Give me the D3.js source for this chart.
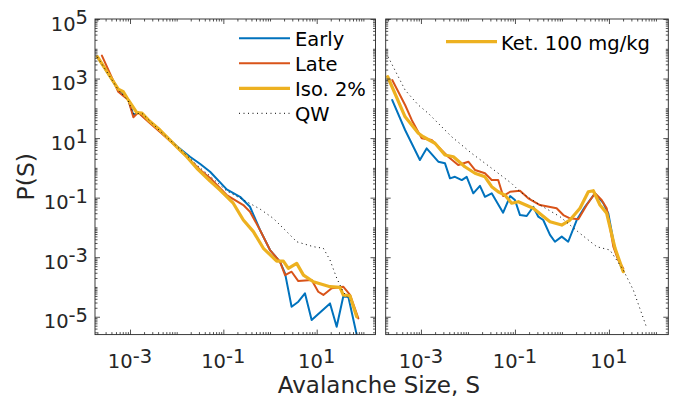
<!DOCTYPE html>
<html><head><meta charset="utf-8">
<script src="https://cdn.jsdelivr.net/npm/d3@7"></script>
<style>body{margin:0;background:#fff} svg{display:block;font-family:"DejaVu Sans",sans-serif}</style>
</head><body><svg id="c" width="680" height="398"></svg>
<script>
// ---------- data (left panel) ----------
const earlyS_L = [2.0e-4,5.6e-4,9.2e-4,1.18e-3,1.5e-3,2.5e-3,4.4e-3,1.0e-2,1.93e-2,3.2e-2,5.2e-2,0.118,0.228,0.372,0.61,1.0,1.64,2.1,2.9,4.04,5.6,7.8,19.3,26.8,37,47.6,72];
const earlyP_L = [5.3e3,4.2e2,1.9e2,60,72,37.5,17.3,5.4,2.37,1.35,0.74,0.19,0.107,0.0495,8.2e-3,1.74e-3,7.0e-4,2.87e-4,2.17e-5,3.2e-5,6.1e-5,7.8e-6,2.8e-5,4.6e-6,4.7e-5,4.7e-5,2.5e-6];
const lateS_L = [2.5e-4,5.6e-4,9.2e-4,1.18e-3,1.5e-3,2.5e-3,4.4e-3,1.0e-2,1.93e-2,3.2e-2,5.2e-2,0.118,0.268,0.372,0.61,1.0,1.64,2.1,2.9,4.04,7.8,10.8,13.9,21,37,51.8,78];
const lateP_L = [5.9e3,3.6e2,1.9e2,50,72,35,16,5.0,1.84,0.85,0.46,0.122,0.0565,0.0337,8.2e-3,1.74e-3,7.0e-4,2.5e-4,3.25e-4,1.58e-4,1.71e-4,6.9e-5,5.4e-5,9.0e-5,1.02e-4,5.4e-5,8.8e-6];
const isoS_L = [2.0e-4,5.6e-4,7.2e-4,9.2e-4,1.4e-3,1.8e-3,2.5e-3,4.4e-3,1.0e-2,1.64e-2,2.7e-2,5.2e-2,8.5e-2,0.163,0.268,0.44,0.72,1.39,1.93,2.47,3.73,5.2,8.5,19.3,31.6,37,51.8,72];
const isoP_L = [5.4e3,4.4e2,3.6e2,1.9e2,72,69,40,18.7,5.1,2.37,0.97,0.36,0.18,0.065,0.0177,7.2e-3,1.99e-3,7.4e-4,7.4e-4,4.2e-4,6.2e-4,2.5e-4,1.5e-4,1.02e-4,9.7e-5,5.4e-5,5.0e-5,1.0e-5];
const qwS_L = [2.0e-4,5.6e-4,9.2e-4,1.18e-3,1.8e-3,4.4e-3,1.0e-2,3.2e-2,5.2e-2,0.118,0.316,0.61,1.17,2.1,3.73,8.5,13.9,19.3,26.8,37,51.8];
const qwP_L = [5.3e3,4.2e2,1.8e2,66,68,17.3,5.3,0.99,0.53,0.167,0.073,0.0415,0.0202,8.2e-3,3.3e-3,2.25e-3,1.99e-3,8.0e-4,2.0e-4,6.8e-5,3.6e-5];

// ---------- data (right panel) ----------
const earlyS_R = [2.45e-4,4.6e-4,9.5e-4,1.32e-3,2.34e-3,3.25e-3,4.15e-3,5.3e-3,7.4e-3,9.4e-3,1.3e-2,1.8e-2,2.3e-2,3.2e-2,5.6e-2,7.9e-2,0.1,0.128,0.178,0.245,0.314,0.40,0.557,0.71,0.99,1.36,2.06,3.09,5.05,7.6,9.7,13.5,18.7];
const earlyP_R = [190,18.7,1.84,4.5,1.61,1.42,0.445,0.50,0.39,0.50,0.14,0.25,0.107,0.14,0.0312,0.113,0.083,0.026,0.0242,0.0495,0.0229,0.0177,5.6e-3,3.3e-3,4.9e-3,3.3e-3,0.0177,0.0495,0.14,0.065,0.0297,1.74e-3,4.2e-4];
const lateS_R = [2.45e-4,4.6e-4,6.4e-4,1.04e-3,1.69e-3,2.34e-3,3.8e-3,6.2e-3,1.02e-2,1.41e-2,2.3e-2,3.2e-2,4.4e-2,5.6e-2,7.9e-2,0.128,0.192,0.341,0.77,1.07,1.48,2.23,3.37,5.05,7.0,8.95,12.4,15.8,20.2];
const lateP_R = [890,129,40,9.8,8.6,5.1,2.37,1.25,1.61,0.85,0.66,0.39,0.39,0.113,0.158,0.171,0.095,0.0565,0.044,0.026,0.0202,0.0187,0.0565,0.14,0.083,0.044,2.25e-3,8.0e-4,4.2e-4];
const ketS_R = [1.96e-4,4.6e-4,8.8e-4,1.12e-3,1.99e-3,3.25e-3,4.9e-3,8.6e-3,1.41e-2,2.3e-2,3.2e-2,4.4e-2,6.1e-2,8.5e-2,0.118,0.245,0.557,0.99,1.48,2.42,3.64,4.65,6.45,8.95,13.5,20.2];
const ketP_R = [1.15e3,52,14.5,11.1,6.7,2.7,2.37,1.09,0.66,0.50,0.233,0.158,0.122,0.065,0.073,0.044,0.0155,0.012,0.0177,0.044,0.158,0.171,0.0565,0.0297,1.99e-3,3.25e-4];
const qwS_R = [2.0e-4,4.6e-4,8.8e-4,1.43e-3,4.5e-3,1.2e-2,3.2e-2,8.5e-2,0.128,0.341,0.91,2.42,5.5,10.5,20.2,33,63.5];
const qwP_R = [5.4e3,4.1e2,129,68,11.1,3.08,0.97,0.30,0.158,0.0565,0.0229,6.3e-3,2.25e-3,1.74e-3,3.7e-4,7.9e-5,4.3e-6];

// ---------- ticks / labels ----------
const xTickExp = [-3, -1, 1];
const yTickExp = [5, 3, 1, -1, -3, -5];
const legendLeft = ["Early", "Late", "Iso. 2%", "QW"];
const legendRight = ["Ket. 100 mg/kg"];
const xLabel = "Avalanche Size, S";
const yLabel = "P(S)";

// ---------- drawing ----------
const C = {blue:"#0072BD", orange:"#D95319", yellow:"#EDB120", axis:"#262626"};
const svg = d3.select("#c");
const FS = 19.5;
const y = d3.scaleLog().domain([Math.pow(10,-5.6), 1e5]).range([334.6, 19]);

function minorTicks(scale, majors) {
  const [a, b] = scale.domain();
  const out = [];
  for (let n = -7; n <= 6; n++) for (let k = 1; k <= 9; k++) {
    const v = k * Math.pow(10, n);
    if (v >= a * 1.0001 && v <= b / 1.0001 && !majors.some(m => Math.abs(m - v) / v < 1e-6)) out.push(v);
  }
  return out;
}

const panels = [
  {id:"L", x:d3.scaleLog().domain([Math.pow(10,-3.75), Math.pow(10,2.26)]).range([95, 375.5]), yLabels:true,
   series:[
     {S:earlyS_L, P:earlyP_L, c:C.blue, w:2},
     {S:lateS_L, P:lateP_L, c:C.orange, w:2},
     {S:isoS_L, P:isoP_L, c:C.yellow, w:3.2},
     {S:qwS_L, P:qwP_L, c:"#000", w:1, dash:"1,3.5"}]},
  {id:"R", x:d3.scaleLog().domain([Math.pow(10,-3.75), Math.pow(10,2.263)]).range([385.7, 668.3]), yLabels:false,
   series:[
     {S:earlyS_R, P:earlyP_R, c:C.blue, w:2},
     {S:lateS_R, P:lateP_R, c:C.orange, w:2},
     {S:ketS_R, P:ketP_R, c:C.yellow, w:3.2},
     {S:qwS_R, P:qwP_R, c:"#000", w:1, dash:"1,3.5"}]}
];

const defs = svg.append("defs");
panels.forEach(p => {
  const [x0, x1] = p.x.range(), [y1, y0] = y.range();
  defs.append("clipPath").attr("id", "clip" + p.id).append("rect")
    .attr("x", x0).attr("y", y0).attr("width", x1 - x0).attr("height", y1 - y0);
  const g = svg.append("g");
  const line = d3.line().x(d => p.x(d[0])).y(d => y(d[1]));
  const lg = g.append("g").attr("clip-path", `url(#clip${p.id})`);
  p.series.forEach(s => {
    lg.append("path").datum(d3.zip(s.S, s.P)).attr("d", line)
      .attr("fill", "none").attr("stroke", s.c).attr("stroke-width", s.w)
      .attr("stroke-linejoin", "round").attr("stroke-linecap", s.dash ? "butt" : "round")
      .attr("stroke-dasharray", s.dash || null);
  });
  const xMaj = xTickExp.map(e => Math.pow(10, e)), yMaj = yTickExp.map(e => Math.pow(10, e));
  const xMin = minorTicks(p.x, xMaj), yMin = minorTicks(y, yMaj);
  const styleAx = sel => { sel.select(".domain").remove(); sel.selectAll("line").attr("stroke", C.axis).attr("stroke-width", 0.8); sel.selectAll("text").remove(); };
  const axDefs = [
    [d3.axisBottom, `translate(0,${y1})`, p.x, -5, xMaj], [d3.axisBottom, `translate(0,${y1})`, p.x, -2.5, xMin],
    [d3.axisTop, `translate(0,${y0})`, p.x, -5, xMaj], [d3.axisTop, `translate(0,${y0})`, p.x, -2.5, xMin],
    [d3.axisLeft, `translate(${x0},0)`, y, -5, yMaj], [d3.axisLeft, `translate(${x0},0)`, y, -2.5, yMin],
    [d3.axisRight, `translate(${x1},0)`, y, -5, yMaj], [d3.axisRight, `translate(${x1},0)`, y, -2.5, yMin]];
  axDefs.forEach(([fn, tr, sc, len, vals]) => {
    g.append("g").attr("transform", tr).call(fn(sc).tickValues(vals).tickSize(len).tickFormat("")).call(styleAx);
  });
  g.append("rect").attr("x", x0).attr("y", y0).attr("width", x1 - x0).attr("height", y1 - y0)
    .attr("fill", "none").attr("stroke", C.axis).attr("stroke-width", 0.9);
  xTickExp.forEach(e => {
    const t = g.append("text").attr("x", p.x(Math.pow(10, e))).attr("y", 368.3)
      .attr("text-anchor", "middle").attr("font-size", FS).attr("fill", C.axis);
    t.append("tspan").text("10");
    t.append("tspan").attr("dy", -5.5).text(e < 0 ? "-" + (-e) : String(e));
  });
  if (p.yLabels) {
    yTickExp.forEach(e => {
      const t = g.append("text").attr("x", 88).attr("y", y(Math.pow(10, e)) + 11.5)
        .attr("text-anchor", "end").attr("font-size", FS).attr("fill", C.axis);
      t.append("tspan").text("10");
      t.append("tspan").attr("dy", -6.5).text(e < 0 ? "-" + (-e) : String(e));
    });
  }
});

// legends
const legL = svg.append("g");
const legStyles = [{c:C.blue, w:2}, {c:C.orange, w:2}, {c:C.yellow, w:3.2}, {c:"#000", w:1, dash:"1,3.5"}];
legendLeft.forEach((name, i) => {
  const yy = 38.3 + i * 25;
  const st = legStyles[i];
  legL.append("line").attr("x1", 239).attr("x2", 290).attr("y1", yy).attr("y2", yy)
    .attr("stroke", st.c).attr("stroke-width", st.w).attr("stroke-dasharray", st.dash || null);
  legL.append("text").attr("x", 295).attr("y", yy + 7.5).attr("font-size", FS).attr("fill", "#000").text(name);
});
legendRight.forEach((name, i) => {
  const yy = 41.7;
  svg.append("line").attr("x1", 446).attr("x2", 497).attr("y1", yy).attr("y2", yy)
    .attr("stroke", C.yellow).attr("stroke-width", 3.2);
  svg.append("text").attr("x", 501).attr("y", yy + 8).attr("font-size", FS).attr("fill", "#000").text(name);
});

// axis labels
svg.append("text").attr("x", 379).attr("y", 393).attr("text-anchor", "middle")
  .attr("font-size", 23).attr("fill", C.axis).text(xLabel);
svg.append("text").attr("transform", "translate(34,176.7) rotate(-90)").attr("text-anchor", "middle")
  .attr("font-size", 23.5).attr("fill", C.axis).text(yLabel);
</script></body></html>
